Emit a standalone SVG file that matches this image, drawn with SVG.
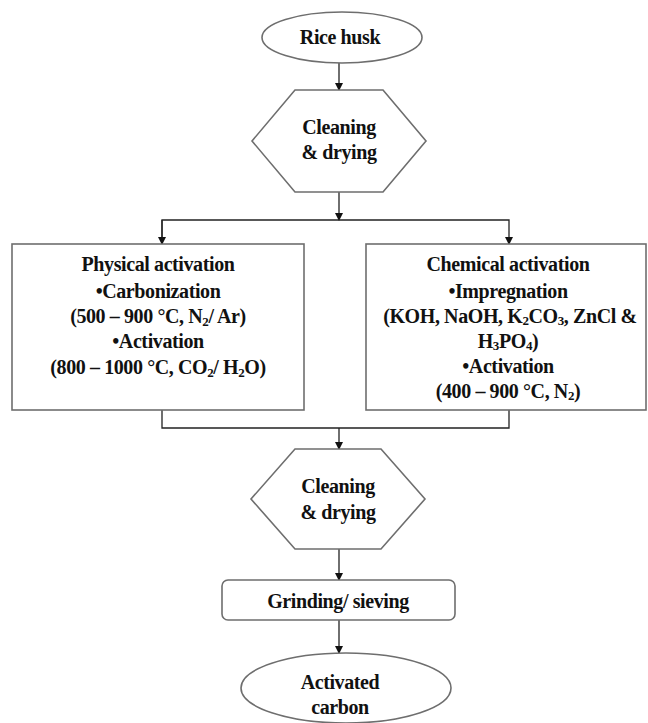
<svg xmlns="http://www.w3.org/2000/svg" width="648" height="723" viewBox="0 0 648 723">
<style>
.shape{fill:#fff;stroke:#6e6e6e;stroke-width:1.6}
.t{font-family:"Liberation Serif","DejaVu Serif",serif;font-weight:bold;font-size:20px;fill:#111;text-anchor:middle;letter-spacing:-0.4px}
.c{fill:none;stroke:#222;stroke-width:1.3}
.s{font-size:13px}
</style>
<defs>
<marker id="ah" markerWidth="8" markerHeight="8" refX="7" refY="4" orient="auto" markerUnits="userSpaceOnUse">
<path d="M0,0 L8,4 L0,8 Z" fill="#111"/>
</marker>
</defs>
<rect width="648" height="723" fill="#fff"/>
<g id="connectors">
<line class="c" x1="339" y1="63" x2="339" y2="90" marker-end="url(#ah)"/>
<line class="c" x1="339" y1="192" x2="339" y2="220" marker-end="url(#ah)"/>
<polyline class="c" points="162,244 162,220 509,220 509,244" marker-end="url(#ah)"/>
<line class="c" x1="162" y1="220" x2="162" y2="244" marker-end="url(#ah)"/>
<polyline class="c" points="162,410 162,428 509,428 509,410"/>
<line class="c" x1="339" y1="428" x2="339" y2="449" marker-end="url(#ah)"/>
<line class="c" x1="339" y1="549" x2="339" y2="580" marker-end="url(#ah)"/>
<line class="c" x1="339" y1="620" x2="339" y2="653" marker-end="url(#ah)"/>
</g>
<g id="rice-husk">
<ellipse class="shape" cx="342" cy="37.5" rx="80" ry="25.5"/>
<text class="t" x="340" y="44">Rice husk</text>
</g>
<g id="cleaning1">
<polygon class="shape" points="295,90 383,90 426,141 383,192 295,192 252,141"/>
<text class="t" x="339" y="134">Cleaning</text>
<text class="t" x="339" y="159">&amp; drying</text>
</g>
<g id="physical">
<rect class="shape" x="12" y="244" width="292" height="166"/>
<text class="t" x="158" y="271">Physical activation</text>
<text class="t" x="158" y="298">•Carbonization</text>
<text class="t" x="158" y="323">(500 – 900 °C, N<tspan class="s" dy="3">2</tspan><tspan dy="-3">/ Ar)</tspan></text>
<text class="t" x="158" y="348">•Activation</text>
<text class="t" x="158" y="374">(800 – 1000 °C, CO<tspan class="s" dy="3">2</tspan><tspan dy="-3">/ H</tspan><tspan class="s" dy="3">2</tspan><tspan dy="-3">O)</tspan></text>
</g>
<g id="chemical">
<rect class="shape" x="366" y="244" width="280" height="166"/>
<text class="t" x="508" y="271">Chemical activation</text>
<text class="t" x="508" y="298">•Impregnation</text>
<text class="t" x="510" y="323">(KOH, NaOH, K<tspan class="s" dy="2">2</tspan><tspan dy="-2">CO</tspan><tspan class="s" dy="2">3</tspan><tspan dy="-2">, ZnCl &amp;</tspan></text>
<text class="t" x="508" y="348">H<tspan class="s" dy="2">3</tspan><tspan dy="-2">PO</tspan><tspan class="s" dy="2">4</tspan><tspan dy="-2">)</tspan></text>
<text class="t" x="508" y="373">•Activation</text>
<text class="t" x="508" y="398">(400 – 900 °C, N<tspan class="s" dy="2">2</tspan><tspan dy="-2">)</tspan></text>
</g>
<g id="cleaning2">
<polygon class="shape" points="295,449 381,449 425,499 381,549 295,549 251,499"/>
<text class="t" x="338" y="493">Cleaning</text>
<text class="t" x="338" y="519">&amp; drying</text>
</g>
<g id="grinding">
<rect class="shape" x="222" y="580" width="233" height="40" rx="6"/>
<text class="t" x="338" y="608">Grinding/ sieving</text>
</g>
<g id="activated-carbon">
<ellipse class="shape" cx="346" cy="688" rx="105" ry="35"/>
<text class="t" x="340" y="689">Activated</text>
<text class="t" x="340" y="714">carbon</text>
</g>
</svg>
